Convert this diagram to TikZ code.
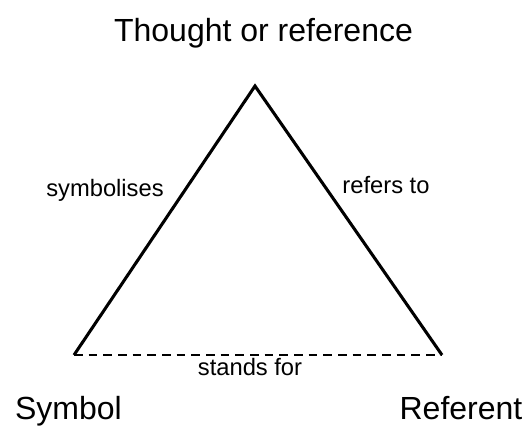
\documentclass[tikz,border=0pt]{standalone}
\usepackage{fontspec}
\setmainfont{Liberation Sans}
\begin{document}
\begin{tikzpicture}[x=0.75pt,y=-0.75pt,
  bigtext/.style={font=\fontsize{24}{28}\selectfont, anchor=base, inner sep=0pt},
  smalltext/.style={font=\fontsize{17.8}{21}\selectfont, anchor=base, inner sep=0pt},
  side/.style={line width=2.3pt, line join=miter},
  dashline/.style={line width=1.1pt, dash pattern=on 6.5pt off 4.5pt}]
\useasboundingbox (0,0) rectangle (531,429);
\coordinate (top) at (255,86);
\coordinate (bl) at (74,355);
\coordinate (br) at (442,355);
\draw[side] (bl) -- (top) -- (br);
\draw[dashline] (bl) -- (br);
\node[bigtext] (thought) at (263.5,41) {Thought or reference};
\node[bigtext] (symbol) at (68.5,419) {Symbol};
\node[bigtext] (referent) at (461,419) {Referent};
\node[smalltext] (symbolises) at (105,196) {symbolises};
\node[smalltext] (refers) at (386,193) {refers to};
\node[smalltext] (stands) at (250,375) {stands for};
\end{tikzpicture}
\end{document}
